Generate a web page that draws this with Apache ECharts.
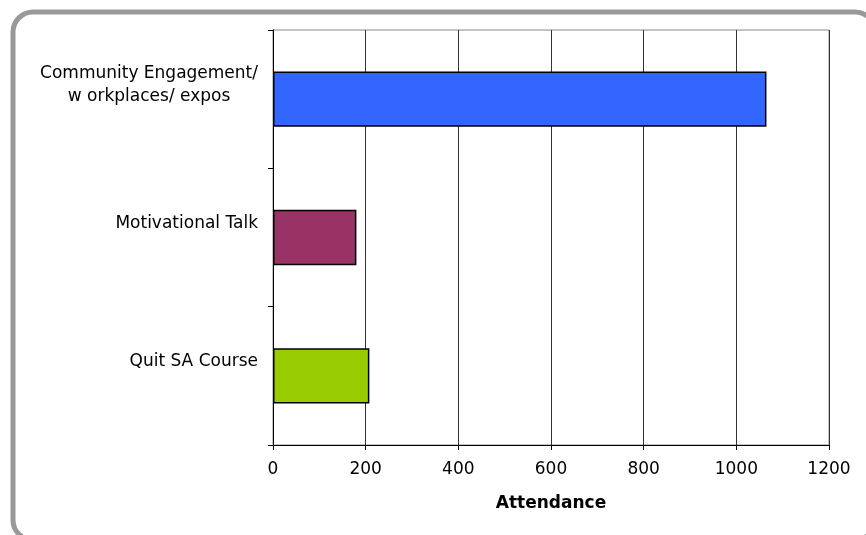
<!DOCTYPE html>
<html>
<head>
<meta charset="utf-8">
<script src="https://cdn.jsdelivr.net/npm/echarts@6/dist/echarts.min.js"></script>
<style>
  html, body { margin: 0; padding: 0; background: #ffffff; }
  #chart { width: 866px; height: 535px; }
</style>
</head>
<body>
<div id="chart"></div>
<script>
// Attendance by session type
const categories = ['Community Engagement/\nw orkplaces/ expos', 'Motivational Talk', 'Quit SA Course'];
const attendance = [1065, 180, 208];
const barColors = ['#3366FF', '#993366', '#99CC00'];
const axisMin = 0;
const axisMax = 1200;
const axisStep = 200;
const axisTitle = 'Attendance';

const FONT = '"DejaVu Sans", "Liberation Sans", Arial, sans-serif';

const chart = echarts.init(document.getElementById('chart'), null, { renderer: 'canvas' });

chart.setOption({
  backgroundColor: '#ffffff',
  animation: false,
  graphic: [{
    type: 'rect',
    z: -10,
    shape: { x: 13, y: 12, width: 862, height: 528, r: 20 },
    style: { fill: 'none', stroke: '#999999', lineWidth: 5 }
  }],
  grid: {
    left: 273, right: 37, top: 30, bottom: 90,
    show: true, borderColor: '#888888', borderWidth: 1, backgroundColor: 'transparent'
  },
  xAxis: {
    type: 'value',
    min: axisMin, max: axisMax, interval: axisStep,
    axisLine: { show: true, lineStyle: { color: '#000000', width: 1 } },
    axisTick: { show: true, length: 5, lineStyle: { color: '#000000' } },
    splitLine: { show: true, lineStyle: { color: '#333333', width: 1 } },
    axisLabel: {
      fontFamily: FONT, fontSize: 17, color: '#000000', margin: 16,
      formatter: v => String(v)
    },
    name: axisTitle,
    nameLocation: 'middle',
    nameGap: 50,
    nameTextStyle: { fontFamily: FONT, fontSize: 17, fontWeight: 'bold', color: '#000000' }
  },
  yAxis: {
    type: 'category',
    data: categories,
    inverse: true,
    axisLine: { show: true, lineStyle: { color: '#000000', width: 1 } },
    axisTick: { show: true, length: 5, lineStyle: { color: '#000000' } },
    splitLine: { show: false },
    axisLabel: {
      margin: 15,
      align: 'right',
      padding: [0, 0, 28, 0],
      formatter: v => v.split('\n').map(l => '{c|' + l + '}').join('\n'),
      rich: {
        c: { align: 'center', fontFamily: FONT, fontSize: 17, color: '#000000', lineHeight: 23 }
      }
    }
  },
  series: [{
    type: 'bar',
    data: attendance.map((v, i) => ({ value: v, itemStyle: { color: barColors[i] } })),
    barWidth: '40%',
    itemStyle: { borderColor: '#000000', borderWidth: 1.5 }
  }]
});
</script>
</body>
</html>
